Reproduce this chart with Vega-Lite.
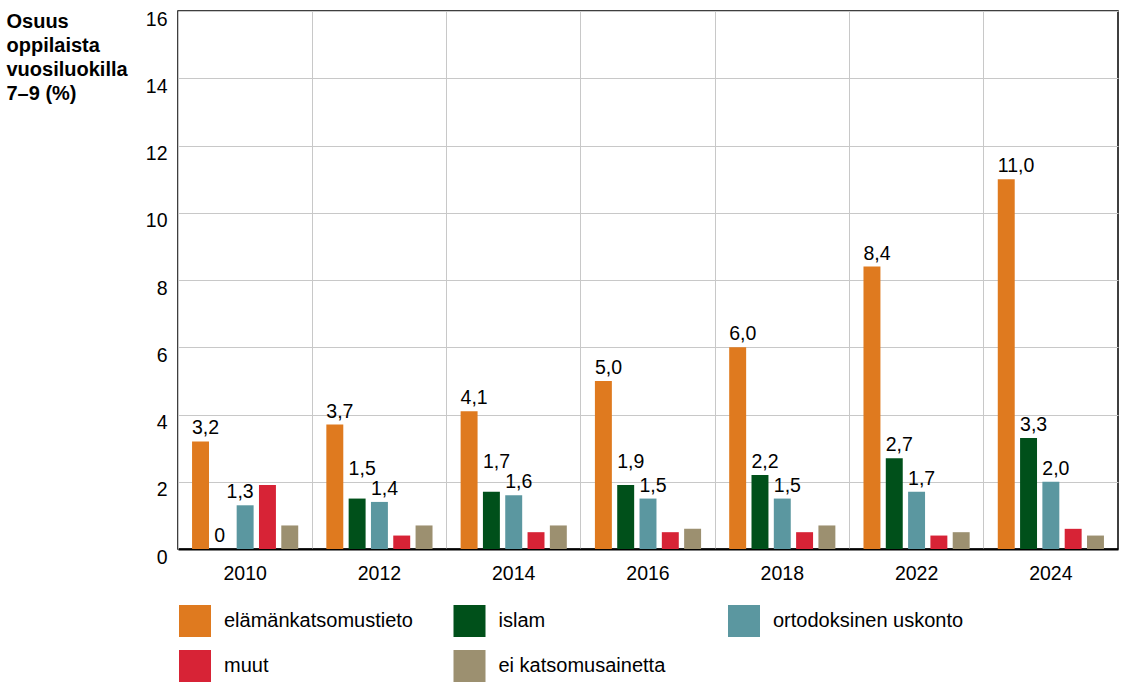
{
  "$schema": "https://vega.github.io/schema/vega-lite/v6.json",
  "width": 940,
  "height": 538,
  "autosize": {"type": "none"},
  "padding": {"left": 178, "top": 11, "right": 12, "bottom": 145},
  "config": {
    "font": "Liberation Sans",
    "view": {"stroke": "#000", "strokeWidth": 1.5}
  },
  "data": {
    "values": [
      {"year": "2010", "cat": "elämänkatsomustieto", "v": 3.2},
      {"year": "2010", "cat": "islam", "v": 0},
      {"year": "2010", "cat": "ortodoksinen uskonto", "v": 1.3},
      {"year": "2010", "cat": "muut", "v": 1.9},
      {"year": "2010", "cat": "ei katsomusainetta", "v": 0.7},
      {"year": "2012", "cat": "elämänkatsomustieto", "v": 3.7},
      {"year": "2012", "cat": "islam", "v": 1.5},
      {"year": "2012", "cat": "ortodoksinen uskonto", "v": 1.4},
      {"year": "2012", "cat": "muut", "v": 0.4},
      {"year": "2012", "cat": "ei katsomusainetta", "v": 0.7},
      {"year": "2014", "cat": "elämänkatsomustieto", "v": 4.1},
      {"year": "2014", "cat": "islam", "v": 1.7},
      {"year": "2014", "cat": "ortodoksinen uskonto", "v": 1.6},
      {"year": "2014", "cat": "muut", "v": 0.5},
      {"year": "2014", "cat": "ei katsomusainetta", "v": 0.7},
      {"year": "2016", "cat": "elämänkatsomustieto", "v": 5.0},
      {"year": "2016", "cat": "islam", "v": 1.9},
      {"year": "2016", "cat": "ortodoksinen uskonto", "v": 1.5},
      {"year": "2016", "cat": "muut", "v": 0.5},
      {"year": "2016", "cat": "ei katsomusainetta", "v": 0.6},
      {"year": "2018", "cat": "elämänkatsomustieto", "v": 6.0},
      {"year": "2018", "cat": "islam", "v": 2.2},
      {"year": "2018", "cat": "ortodoksinen uskonto", "v": 1.5},
      {"year": "2018", "cat": "muut", "v": 0.5},
      {"year": "2018", "cat": "ei katsomusainetta", "v": 0.7},
      {"year": "2022", "cat": "elämänkatsomustieto", "v": 8.4},
      {"year": "2022", "cat": "islam", "v": 2.7},
      {"year": "2022", "cat": "ortodoksinen uskonto", "v": 1.7},
      {"year": "2022", "cat": "muut", "v": 0.4},
      {"year": "2022", "cat": "ei katsomusainetta", "v": 0.5},
      {"year": "2024", "cat": "elämänkatsomustieto", "v": 11.0},
      {"year": "2024", "cat": "islam", "v": 3.3},
      {"year": "2024", "cat": "ortodoksinen uskonto", "v": 2.0},
      {"year": "2024", "cat": "muut", "v": 0.6},
      {"year": "2024", "cat": "ei katsomusainetta", "v": 0.4}
    ]
  },
  "transform": [
    {"calculate": "datum.v === 0 ? '0' : replace(format(datum.v, '.1f'), '.', ',')", "as": "label"}
  ],
  "encoding": {
    "x": {
      "field": "year",
      "type": "nominal",
      "scale": {"paddingInner": 0, "paddingOuter": 0},
      "axis": {
        "title": null,
        "labelAngle": 0,
        "ticks": false,
        "domain": true,
        "domainColor": "#000",
        "domainWidth": 2,
        "labelFontSize": 19.5,
        "labelColor": "#000",
        "labelPadding": 15,
        "grid": true,
        "gridColor": "#c8c8c8",
        "gridWidth": 1,
        "bandPosition": 0
      }
    },
    "xOffset": {
      "field": "cat",
      "type": "nominal",
      "sort": ["elämänkatsomustieto", "islam", "ortodoksinen uskonto", "muut", "ei katsomusainetta"],
      "scale": {"paddingInner": 0.24, "paddingOuter": 0.63}
    },
    "y": {
      "field": "v",
      "type": "quantitative",
      "scale": {"domain": [0, 16]},
      "axis": {
        "values": [0, 2, 4, 6, 8, 10, 12, 14, 16],
        "title": ["Osuus", "oppilaista", "vuosiluokilla", "7–9 (%)"],
        "titleAngle": 0,
        "titleAlign": "left",
        "titleBaseline": "top",
        "titleX": -172,
        "titleY": 0,
        "titleFontSize": 20,
        "titleFontWeight": "bold",
        "titleLineHeight": 24,
        "titleColor": "#000",
        "labelFontSize": 19.5,
        "labelColor": "#000",
        "labelPadding": 11,
        "labelOffset": 8,
        "labelOverlap": false,
        "ticks": false,
        "domain": false,
        "grid": true,
        "gridColor": "#c8c8c8",
        "gridWidth": 1
      }
    }
  },
  "layer": [
    {
      "mark": {"type": "bar"},
      "encoding": {
        "color": {
          "field": "cat",
          "type": "nominal",
          "sort": ["elämänkatsomustieto", "islam", "ortodoksinen uskonto", "muut", "ei katsomusainetta"],
          "scale": {
            "domain": ["elämänkatsomustieto", "islam", "ortodoksinen uskonto", "muut", "ei katsomusainetta"],
            "range": ["#DF7A1F", "#00501A", "#5B97A0", "#D72336", "#9C9070"]
          },
          "legend": {
            "title": null,
            "orient": "none",
            "legendX": 1,
            "legendY": 594,
            "direction": "horizontal",
            "columns": 3,
            "gridAlign": "all",
            "columnPadding": 38.5,
            "rowPadding": 13,
            "padding": 0,
            "symbolType": "square",
            "symbolSize": 1024,
            "symbolStrokeWidth": 0,
            "symbolOpacity": 1,
            "labelFontSize": 20,
            "labelLimit": 500,
            "labelColor": "#000",
            "labelOffset": 13
          }
        }
      }
    },
    {
      "transform": [
        {"filter": "indexof(['elämänkatsomustieto', 'islam', 'ortodoksinen uskonto'], datum.cat) >= 0 && !(datum.year === '2010' && datum.cat === 'ortodoksinen uskonto') && !(datum.cat === 'islam' && indexof(['2012', '2014', '2016'], datum.year) >= 0)"}
      ],
      "mark": {"type": "text", "align": "left", "baseline": "alphabetic", "dx": -8.5, "dy": -7, "fontSize": 19.5, "color": "#000"},
      "encoding": {"text": {"field": "label"}}
    },
    {
      "transform": [
        {"filter": "datum.cat === 'islam' && (datum.year === '2012' || datum.year === '2014')"}
      ],
      "mark": {"type": "text", "align": "left", "baseline": "alphabetic", "dx": -8.5, "dy": -23.5, "fontSize": 19.5, "color": "#000"},
      "encoding": {"text": {"field": "label"}}
    },
    {
      "transform": [
        {"filter": "datum.cat === 'islam' && datum.year === '2016'"}
      ],
      "mark": {"type": "text", "align": "left", "baseline": "alphabetic", "dx": -8.5, "dy": -17, "fontSize": 19.5, "color": "#000"},
      "encoding": {"text": {"field": "label"}}
    },
    {
      "transform": [
        {"filter": "datum.year === '2010' && datum.cat === 'ortodoksinen uskonto'"}
      ],
      "mark": {"type": "text", "align": "right", "baseline": "alphabetic", "dx": 8.5, "dy": -7, "fontSize": 19.5, "color": "#000"},
      "encoding": {"text": {"field": "label"}}
    }
  ]
}
